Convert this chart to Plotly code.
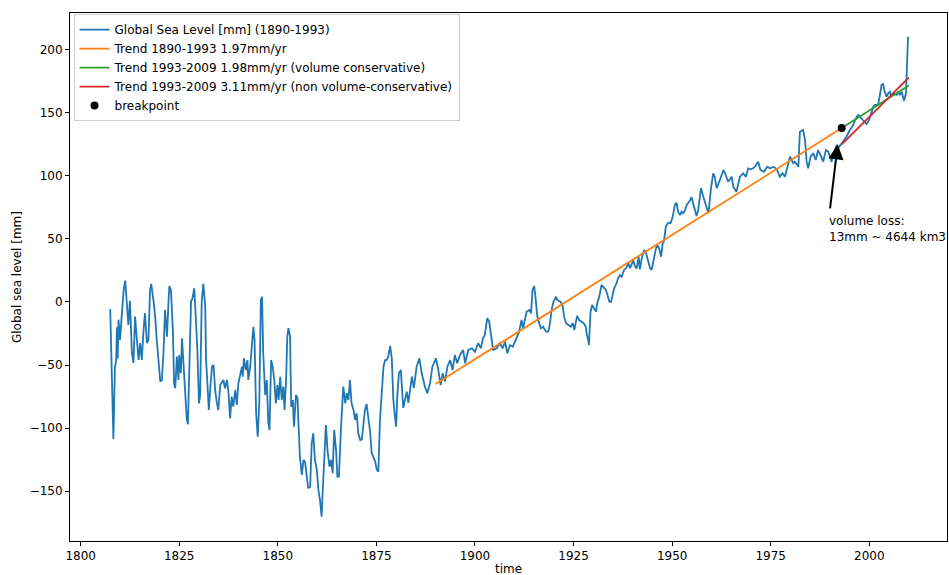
import plotly.graph_objects as go

# Global mean sea level reconstruction, annual-ish samples
years = [
    1807.5, 1808.3, 1808.7, 1809.0, 1809.2, 1809.4, 1809.6, 1810.0, 1810.4, 1810.7,
    1810.9, 1811.3, 1811.7, 1812.1, 1812.5, 1813.0, 1813.4, 1813.8, 1814.2, 1814.7,
    1815.1, 1815.5, 1815.9, 1816.3, 1816.8, 1817.2, 1817.6, 1817.9, 1818.5, 1818.9,
    1819.3, 1819.7, 1820.2, 1820.6, 1821.0, 1821.4, 1821.9, 1822.3, 1822.5, 1822.9,
    1823.4, 1823.7, 1824.0, 1824.4, 1824.8, 1825.0, 1825.4, 1825.7, 1826.1, 1826.5,
    1826.9, 1827.2, 1827.6, 1828.0, 1828.3, 1828.8, 1829.1, 1829.6, 1830.0, 1830.3,
    1830.7, 1831.1, 1831.6, 1831.8, 1832.1, 1832.5, 1833.0, 1833.3, 1833.7, 1834.1,
    1834.5, 1834.9, 1835.4, 1835.8, 1836.2, 1836.6, 1837.1, 1837.5, 1837.9, 1838.3,
    1838.7, 1839.2, 1839.6, 1840.0, 1840.4, 1840.9, 1841.1, 1841.4, 1841.9, 1842.3,
    1842.5, 1843.0, 1843.4, 1843.8, 1844.1, 1844.5, 1844.9, 1845.3, 1845.7, 1846.0,
    1846.3, 1846.8, 1847.2, 1847.6, 1847.9, 1848.3, 1848.7, 1849.1, 1849.5, 1849.9,
    1850.2, 1850.6, 1851.0, 1851.4, 1851.7, 1852.1, 1852.4, 1852.7, 1853.1, 1853.4,
    1853.8, 1854.1, 1854.6, 1855.0, 1855.2, 1855.6, 1856.1, 1856.5, 1856.9, 1857.3,
    1857.7, 1858.2, 1858.6, 1859.0, 1859.4, 1859.9, 1860.3, 1860.7, 1861.1, 1861.4,
    1861.7, 1862.2, 1862.6, 1863.1, 1863.5, 1863.9, 1864.3, 1864.8, 1865.1, 1865.5,
    1866.0, 1866.4, 1866.6, 1867.1, 1867.5, 1867.9, 1868.3, 1868.7, 1869.2, 1869.6,
    1870.0, 1870.4, 1870.9, 1871.3, 1871.7, 1872.1, 1872.5, 1873.0, 1873.4, 1873.8,
    1874.2, 1874.7, 1875.1, 1875.5, 1875.9, 1876.4, 1876.8, 1877.2, 1877.6, 1878.0,
    1878.5, 1878.9, 1879.3, 1879.7, 1880.0, 1880.3, 1880.7, 1881.2, 1881.8, 1882.7,
    1883.1, 1884.0, 1884.5, 1885.2, 1885.9, 1886.5, 1887.3, 1887.9, 1888.6, 1889.2,
    1890.1, 1890.7, 1891.3, 1891.8, 1892.4, 1893.0, 1893.7, 1894.3, 1894.9, 1895.5,
    1896.2, 1897.0, 1897.5, 1898.3, 1899.2, 1900.0, 1900.8, 1901.5, 1902.0, 1902.5,
    1903.1, 1903.6, 1904.2, 1904.6, 1905.5, 1906.3, 1907.0, 1907.6, 1908.2, 1908.9,
    1909.6, 1910.1, 1910.6, 1911.2, 1911.8, 1912.2, 1913.1, 1913.8, 1914.2, 1914.6,
    1915.0, 1915.3, 1915.8, 1916.3, 1916.7, 1917.3, 1918.0, 1918.6, 1919.0, 1919.5,
    1919.9, 1920.5, 1921.1, 1921.7, 1922.2, 1922.6, 1923.1, 1923.7, 1924.3, 1924.8,
    1925.2, 1925.6, 1925.9, 1926.4, 1927.1, 1927.6, 1928.1, 1928.3, 1928.7, 1928.9,
    1929.3, 1929.7, 1930.2, 1930.7, 1931.0, 1931.5, 1932.1, 1932.5, 1933.2, 1933.6,
    1934.1, 1934.5, 1934.9, 1935.3, 1935.9, 1936.3, 1936.8, 1937.2, 1937.8, 1938.3,
    1938.9, 1939.3, 1939.7, 1940.1, 1940.6, 1941.0, 1941.5, 1941.8, 1942.3, 1942.9,
    1943.4, 1943.8, 1944.4, 1944.8, 1945.4, 1945.9, 1946.2, 1946.7, 1947.2, 1947.6,
    1947.9, 1948.4, 1949.0, 1949.6, 1950.1, 1950.7, 1951.1, 1951.5, 1952.0, 1952.4,
    1952.8, 1953.2, 1953.7, 1954.1, 1954.5, 1954.9, 1955.3, 1955.8, 1956.2, 1956.6,
    1957.0, 1957.3, 1957.9, 1958.7, 1959.2, 1959.8, 1960.4, 1960.8, 1961.3, 1962.1,
    1963.0, 1963.4, 1964.2, 1965.1, 1965.5, 1966.3, 1967.2, 1968.0, 1968.7, 1969.3,
    1970.1, 1971.0, 1971.8, 1972.4, 1973.3, 1974.1, 1974.8, 1975.8, 1976.6, 1977.3,
    1978.0, 1978.6, 1979.4, 1979.9, 1980.7, 1981.1, 1982.0, 1982.4, 1983.2, 1983.7,
    1984.1, 1984.5, 1985.1, 1985.8, 1986.4, 1987.0, 1987.6, 1988.3, 1989.0, 1989.6,
    1990.4, 1990.8, 1991.7, 1992.1, 1992.7, 1993.4, 1994.2, 1995.1, 1995.9, 1996.8,
    1997.2, 1997.6, 1998.0, 1998.4, 1999.3, 1999.95, 2000.6, 2001.0, 2001.4, 2002.2,
    2002.7, 2003.1, 2003.5, 2003.9, 2004.4, 2004.8, 2005.2, 2005.6, 2006.2, 2006.9,
    2007.3, 2007.7, 2008.2, 2008.6, 2008.8, 2009.3, 2009.4, 2009.6, 2009.8, 2010.0,
]

sea_level = [
    -5.5, -108.6, -51.3, -47.0, -20.0, -45.0, -14.0, -30.0, -11.6, 0.3,
    9.5, 16.9, -3.7, -18.2, 1.0, -40.4, -48.3, -11.6, -27.5, -46.0,
    -32.5, -46.0, -24.6, -8.7, -32.5, -30.0, 9.5, 14.3, 0.2, -11.6,
    -30.0, -43.3, -63.2, -61.8, -40.4, -6.3, -27.5, 1.6, 12.7, 9.5,
    -23.5, -64.2, -68.4, -43.3, -61.8, -42.0, -56.5, -28.8, -49.9, -77.7,
    -92.2, -96.9, -43.3, 1.0, 2.1, 10.9, -6.3, -38.0, -80.3, -73.7,
    0.2, 14.3, -3.7, -46.0, -61.8, -85.6, -63.2, -51.3, -49.9, -69.7,
    -79.0, -85.6, -65.8, -64.2, -61.8, -68.4, -61.8, -72.3, -92.2, -75.0,
    -83.0, -69.7, -81.6, -64.4, -59.2, -51.3, -59.2, -44.6, -53.9, -46.0,
    -61.8, -51.3, -35.4, -19.6, -30.1, -88.2, -106.7, -80.3, 1.6, 4.2,
    -40.6, -73.7, -61.8, -96.1, -101.4, -46.0, -51.3, -61.8, -80.3, -65.8,
    -77.7, -59.2, -77.7, -67.1, -85.6, -61.8, -27.5, -20.8, -27.5, -83.0,
    -77.7, -98.8, -73.7, -76.0, -93.5, -122.6, -137.1, -125.2, -126.5, -138.4,
    -147.6, -146.4, -112.0, -104.0, -125.2, -133.1, -149.0, -156.9, -170.1, -149.0,
    -130.5, -97.5, -117.3, -130.5, -125.2, -135.7, -101.4, -118.6, -138.4, -138.4,
    -101.4, -83.0, -67.1, -80.3, -72.3, -77.7, -61.8, -80.3, -85.6, -93.5,
    -88.2, -104.0, -109.4, -109.0, -97.5, -85.6, -80.8, -90.9, -102.8, -119.6,
    -122.6, -126.5, -133.1, -134.5, -93.5, -65.8, -51.3, -46.0, -46.0, -43.3,
    -34.9, -44.6, -77.7, -90.9, -98.8, -75.0, -56.5, -53.9, -84.0, -71.1,
    -80.0, -59.2, -68.1, -51.3, -44.6, -56.5, -67.1, -72.3, -64.4, -51.3,
    -44.6, -53.9, -65.8, -56.5, -62.8, -51.3, -46.0, -53.9, -42.0, -48.6,
    -42.0, -38.0, -48.6, -38.0, -36.7, -39.4, -32.7, -36.7, -28.8, -26.1,
    -12.9, -15.6, -27.5, -38.0, -36.7, -32.7, -36.7, -31.5, -40.6, -34.1,
    -35.4, -31.5, -27.5, -23.5, -14.3, -20.8, -7.7, -6.3, -9.0, 9.5,
    12.7, 5.5, -11.6, -16.9, -20.8, -19.6, -23.5, -23.5, -16.9, -5.0,
    0.2, 3.7, 1.0, 0.2, -2.4, -11.6, -16.9, -18.2, -19.6, -16.9,
    -22.2, -15.6, -11.1, -14.3, -15.6, -16.9, -19.6, -24.8, -30.1, -34.1,
    -7.7, -2.4, -5.0, -7.7, -1.0, 4.2, 13.5, 12.1, 9.5, 5.5,
    0.2, 0.2, 5.5, 10.9, 14.8, 18.8, 21.4, 20.0, 25.4, 26.7,
    30.7, 26.7, 29.3, 33.3, 28.0, 26.7, 35.9, 25.9, 34.6, 41.2,
    38.6, 34.6, 26.7, 25.4, 35.9, 42.6, 45.2, 42.6, 35.9, 46.5,
    47.8, 59.7, 62.8, 62.4, 67.1, 76.9, 78.7, 71.6, 68.9, 71.6,
    70.3, 72.3, 76.9, 78.2, 80.3, 83.0, 78.2, 71.6, 68.1, 72.9,
    83.4, 90.3, 83.4, 75.5, 70.3, 88.7, 102.0, 99.3, 90.1, 96.7,
    104.6, 102.0, 95.3, 99.3, 91.4, 87.4, 99.3, 102.0, 99.3, 105.9,
    105.1, 107.2, 111.2, 104.6, 103.2, 107.2, 105.9, 107.2, 104.6, 99.3,
    102.0, 99.3, 108.6, 115.1, 109.9, 111.2, 107.2, 134.9, 136.3, 128.4,
    111.2, 105.9, 115.1, 117.8, 112.5, 120.4, 116.5, 111.2, 120.4, 119.1,
    111.2, 115.1, 124.4, 121.8, 124.4, 127.0, 131.0, 136.3, 140.3, 146.8,
    148.2, 146.8, 145.6, 144.2, 141.0, 144.2, 150.8, 154.8, 156.1, 156.1,
    164.0, 172.0, 172.7, 166.6, 162.7, 165.4, 166.6, 162.7, 165.4, 164.0,
    166.6, 164.0, 166.6, 160.0, 159.5, 165.4, 178.5, 189.1, 209.0, 210.2,
]

# Piecewise linear trends (mm/yr) around the 1993 breakpoint
trend_start_year = 1890
breakpoint_year = 1993
trend_end_year = 2010
trend_start_value = -65.0
slope_1890_1993 = 1.97
slope_conservative = 1.98
slope_non_conservative = 3.11
volume_loss_mm = 13

breakpoint_value = trend_start_value + slope_1890_1993 * (breakpoint_year - trend_start_year)
offset_value = breakpoint_value - volume_loss_mm

trend_x = [trend_start_year, breakpoint_year]
trend_y = [trend_start_value, breakpoint_value]
late_x = [breakpoint_year, trend_end_year]
cons_y = [breakpoint_value, breakpoint_value + slope_conservative * (trend_end_year - breakpoint_year)]
noncons_y = [offset_value, offset_value + slope_non_conservative * (trend_end_year - breakpoint_year)]

x_ticks = [1800, 1825, 1850, 1875, 1900, 1925, 1950, 1975, 2000]
y_ticks = [-150, -100, -50, 0, 50, 100, 150, 200]

FONT = "DejaVu Sans"
FS = 12
LW = 1.8

fig = go.Figure()
fig.add_trace(go.Scatter(x=years, y=sea_level, mode="lines",
                         line=dict(color="#1f77b4", width=LW),
                         name="Global Sea Level [mm] (1890-1993)"))
fig.add_trace(go.Scatter(x=trend_x, y=trend_y, mode="lines",
                         line=dict(color="#ff7f0e", width=LW),
                         name="Trend 1890-1993 1.97mm/yr"))
fig.add_trace(go.Scatter(x=late_x, y=cons_y, mode="lines",
                         line=dict(color="#2ca02c", width=LW),
                         name="Trend 1993-2009 1.98mm/yr (volume conservative)"))
fig.add_trace(go.Scatter(x=late_x, y=noncons_y, mode="lines",
                         line=dict(color="#d62728", width=LW),
                         name="Trend 1993-2009 3.11mm/yr (non volume-conservative)"))
fig.add_trace(go.Scatter(x=[breakpoint_year], y=[breakpoint_value], mode="markers",
                         marker=dict(color="black", size=8),
                         name="breakpoint"))

# Arrow pointing at the offset between the two late trends
fig.add_annotation(x=breakpoint_year - 1, y=offset_value, ax=1990, ay=73,
                   xref="x", yref="y", axref="x", ayref="y",
                   text="", showarrow=True, arrowhead=2, arrowsize=1.5,
                   arrowwidth=2, arrowcolor="black")
fig.add_annotation(x=1989.3, y=44, xref="x", yref="y",
                   text="volume loss:<br>13mm ~ 4644 km3", showarrow=False,
                   xanchor="left", yanchor="bottom", align="left",
                   font=dict(family=FONT, size=FS, color="black"))

# Axis titles
fig.add_annotation(x=0.5, y=-0.053, xref="paper", yref="paper", text="time",
                   showarrow=False, xanchor="center", yanchor="middle",
                   font=dict(family=FONT, size=FS, color="black"))
fig.add_annotation(x=-0.0604, y=0.5, xref="paper", yref="paper",
                   text="Global sea level [mm]", textangle=-90, showarrow=False,
                   xanchor="center", yanchor="middle",
                   font=dict(family=FONT, size=FS, color="black"))

axis_common = dict(showline=True, mirror=True, linecolor="black", linewidth=1,
                   ticks="outside", ticklen=4, tickwidth=1, tickcolor="black",
                   showgrid=False, zeroline=False,
                   tickfont=dict(family=FONT, size=FS, color="black"))

fig.update_xaxes(range=[1797.3, 2019.7], tickvals=x_ticks,
                 ticktext=[str(t) for t in x_ticks], **axis_common)
fig.update_yaxes(range=[-189.4, 229.0], tickvals=y_ticks, **axis_common)

fig.update_layout(
    width=949, height=575,
    margin=dict(l=70, r=2, t=13, b=34, autoexpand=False),
    paper_bgcolor="white", plot_bgcolor="white",
    font=dict(family=FONT, size=FS, color="black"),
    showlegend=True,
    legend=dict(x=0.004, y=0.998, xanchor="left", yanchor="top",
                bgcolor="rgba(255,255,255,0.8)", bordercolor="#cccccc",
                borderwidth=1, itemwidth=30,
                font=dict(family=FONT, size=FS, color="black")),
)

fig.write_html("out.html")
